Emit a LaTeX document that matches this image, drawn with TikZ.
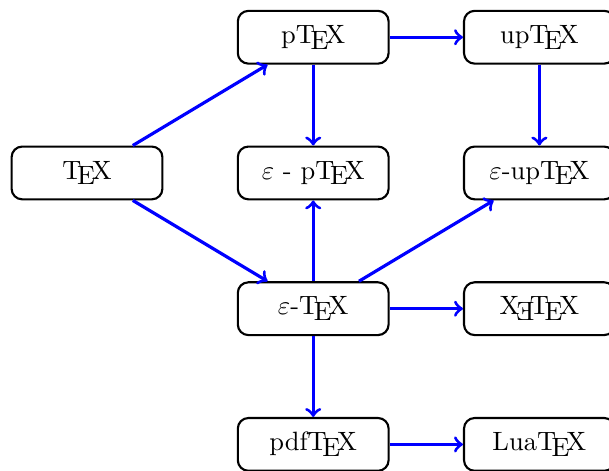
\documentclass[tikz,border=0pt]{standalone}
\usepackage{graphicx}
\newcommand{\myXeTeX}{X\lower.5ex\hbox{\kern-.125em\reflectbox{E}}\kern-.1667em\TeX}
\begin{document}
\begin{tikzpicture}[
  engine/.style={draw, thick, rounded corners=4pt, minimum width=2cm, minimum height=0.7cm, inner sep=0pt},
  link/.style={->, blue, very thick}
]
\useasboundingbox (-1.154,-3.952) rectangle (6.923,2.294);
\node[engine] (tex) at (0,0) {\TeX};
\node[engine] (ptex) at (3,1.8) {p\TeX};
\node[engine] (uptex) at (6,1.8) {up\TeX};
\node[engine] (eptex) at (3,0) {$\varepsilon$ - p\TeX};
\node[engine] (euptex) at (6,0) {$\varepsilon$-up\TeX};
\node[engine] (etex) at (3,-1.8) {$\varepsilon$-\TeX};
\node[engine] (xetex) at (6,-1.8) {\myXeTeX};
\node[engine] (pdftex) at (3,-3.6) {pdf\TeX};
\node[engine] (luatex) at (6,-3.6) {Lua\TeX};
\draw[link] (tex) -- (ptex);
\draw[link] (tex) -- (etex);
\draw[link] (ptex) -- (uptex);
\draw[link] (ptex) -- (eptex);
\draw[link] (uptex) -- (euptex);
\draw[link] (etex) -- (eptex);
\draw[link] (etex) -- (euptex);
\draw[link] (etex) -- (xetex);
\draw[link] (etex) -- (pdftex);
\draw[link] (pdftex) -- (luatex);
\end{tikzpicture}
\end{document}
